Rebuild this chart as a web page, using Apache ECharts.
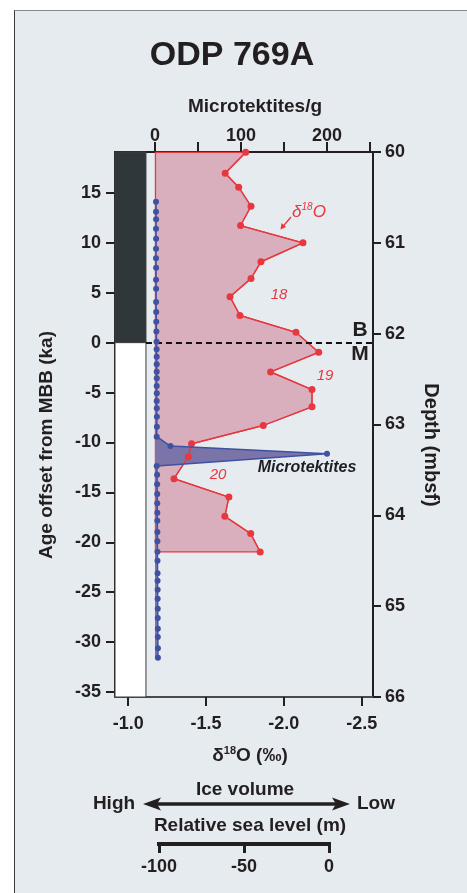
<!DOCTYPE html>
<html>
<head>
<meta charset="utf-8">
<script src="https://cdn.jsdelivr.net/npm/echarts@6/dist/echarts.min.js"></script>
<style>
html,body{margin:0;padding:0;background:#ffffff;}
#frame{position:absolute;left:14px;top:10px;width:470px;height:900px;background:#e6ebf0;border-left:1.5px solid #3a3a3a;border-top:1px solid #8a8a8a;}
#chart{position:absolute;left:0;top:0;width:467px;height:893px;}
</style>
</head>
<body>
<div id="frame"></div>
<div id="chart"></div>
<script>
// ---------------- DATA ----------------
// delta18O record (per mil) vs age offset from MBB (ka)
const redKa = [19.07, 16.97, 15.57, 13.67, 11.73, 10.0, 8.1, 6.43, 4.6, 2.73, 1.03, -0.97, -2.93, -4.7, -6.43, -8.3, -10.13, -11.43, -13.63, -15.47, -17.4, -19.13, -20.97];
const redD18O = [-1.755, -1.623, -1.710, -1.789, -1.722, -2.123, -1.853, -1.789, -1.654, -1.718, -2.078, -2.224, -1.915, -2.181, -2.181, -1.868, -1.407, -1.386, -1.294, -1.647, -1.621, -1.787, -1.848];
const redFillBase = -1.175; // delta18O value of the fill's left edge

// Microtektite abundance (microtektites/g) vs depth (mbsf)
const blueDepth = [60.547, 60.657, 60.741, 60.844, 60.954, 61.064, 61.170, 61.273, 61.406, 61.505, 61.651, 61.761, 61.868, 61.976,
  62.089, 62.172, 62.254, 62.337, 62.419, 62.491, 62.576, 62.657, 62.741, 62.822, 62.914, 63.024, 63.134,
  63.237, 63.322, 63.457,
  63.553, 63.658, 63.765, 63.868, 63.971, 64.059, 64.184, 64.286, 64.400, 64.500, 64.638, 64.720, 64.819, 64.918, 65.028, 65.131, 65.248, 65.340, 65.464, 65.568];
const blueCount = [1.2, 1.2, 1.3, 1.2, 1.3, 1.2, 1.2, 1.3, 1.2, 1.3, 1.3, 1.4, 1.5, 1.6,
  1.8, 1.9, 2.0, 2.0, 2.0, 2.1, 2.0, 2.1, 2.0, 2.1, 2.2, 2.2, 2.0,
  18, 200, 2.0,
  2.5, 2.5, 2.6, 2.6, 2.7, 2.7, 2.8, 2.8, 2.9, 2.9, 3.0, 3.0, 3.1, 3.1, 3.2, 3.2, 3.3, 3.3, 3.4, 3.4];

// Magnetic polarity (Brunhes normal above MBB, Matuyama reversed below)
const polarityTop = [19.1, 0];
const polarityBottom = [0, -35.5];
const polarityNormal = [true, false];

// Tick values
const d18OTicks = [-1.0, -1.5, -2.0, -2.5];
const mtTicks = [0, 50, 100, 150, 200, 250];
const mtLabels = [0, 100, 200];
const kaTicks = [-35, -30, -25, -20, -15, -10, -5, 0, 5, 10, 15];
const seaLevelTicks = [-100, -50, 0];

// ---------------- STYLE ----------------
const FONT = 'Liberation Sans, Arial, Helvetica, sans-serif';
const INK = '#231f20';
const RED = '#e8383f';
const PINK = '#d9aebd';
const BLUE = '#3f51a1';
const PURPLE = '#7b74a9';
const POL_X0 = -0.915, POL_X1 = -1.114; // polarity column edges on the d18O axis
const D_MIN = -2.573, D_MAX = -0.915;

const redPts = redD18O.map((v, i) => [v, redKa[i]]);
const bluePts = blueCount.map((v, i) => [v, blueDepth[i]]);
const polData = polarityTop.map((t, i) => [POL_X0, POL_X1, t, polarityBottom[i], polarityNormal[i] ? 1 : 0]);

function fillRender(points, base, fill, stroke) {
  return function (params, api) {
    if (params.dataIndex !== 0) return;
    const pts = points.map(p => api.coord(p));
    pts.unshift(api.coord([base, points[0][1]]));
    pts.push(api.coord([base, points[points.length - 1][1]]));
    return { type: 'polygon', shape: { points: pts }, style: { fill: fill, stroke: stroke || 'none', lineWidth: 1.3 } };
  };
}

const tickLabel = { color: INK, fontFamily: FONT, fontWeight: 'bold', fontSize: 18 };

const chart = echarts.init(document.getElementById('chart'));
const option = {
  backgroundColor: 'transparent',
  animation: false,
  grid: [
    { left: 115, top: 152, width: 258, height: 545, show: false },
    { left: 159, top: 843, width: 170, height: 1, show: false }
  ],
  xAxis: [
    { type: 'value', gridIndex: 0, position: 'bottom', inverse: true, min: D_MIN, max: D_MAX,
      axisLine: { show: true, onZero: false, lineStyle: { color: '#4a4a4a', width: 2 } },
      axisTick: { show: true, length: 9, customValues: d18OTicks, lineStyle: { color: INK, width: 2 } },
      axisLabel: Object.assign({ customValues: d18OTicks, margin: 18, formatter: v => v.toFixed(1) }, tickLabel),
      splitLine: { show: false } },
    { type: 'value', gridIndex: 0, position: 'top', min: -46.5, max: 253.5,
      axisLine: { show: true, onZero: false, lineStyle: { color: INK, width: 2 } },
      axisTick: { show: true, length: 10, customValues: mtTicks, lineStyle: { color: INK, width: 2 } },
      axisLabel: Object.assign({ customValues: mtLabels, margin: 7 }, tickLabel),
      splitLine: { show: false } },
    { type: 'value', gridIndex: 1, position: 'bottom', min: -100, max: 0, interval: 50,
      axisLine: { show: true, onZero: false, lineStyle: { color: INK, width: 4, cap: 'square' } },
      axisTick: { show: true, length: 9, lineStyle: { color: INK, width: 3 } },
      axisLabel: Object.assign({ margin: 14 }, tickLabel),
      splitLine: { show: false } }
  ],
  yAxis: [
    { type: 'value', gridIndex: 0, position: 'left', min: -35.5, max: 19.1,
      axisLine: { show: true, onZero: false, lineStyle: { color: INK, width: 2 } },
      axisTick: { show: true, length: 9, customValues: kaTicks, lineStyle: { color: INK, width: 2 } },
      axisLabel: Object.assign({ customValues: kaTicks, margin: 14 }, tickLabel),
      splitLine: { show: false } },
    { type: 'value', gridIndex: 0, position: 'right', min: 60, max: 66, interval: 1, inverse: true,
      axisLine: { show: true, onZero: false, lineStyle: { color: INK, width: 2 } },
      axisTick: { show: true, length: 8, lineStyle: { color: INK, width: 2 } },
      axisLabel: Object.assign({ margin: 12 }, tickLabel),
      splitLine: { show: false } },
    { type: 'value', gridIndex: 1, show: false, min: 0, max: 1 }
  ],
  series: [
    { type: 'custom', name: 'polarity', xAxisIndex: 0, yAxisIndex: 0, z: 1, data: polData,
      renderItem: function (params, api) {
        const p0 = api.coord([api.value(0), api.value(2)]);
        const p1 = api.coord([api.value(1), api.value(3)]);
        const normal = api.value(4) === 1;
        return { type: 'rect', shape: { x: p0[0], y: p0[1], width: p1[0] - p0[0], height: p1[1] - p0[1] },
          style: { fill: normal ? '#2f373a' : '#ffffff', stroke: '#3c3c3c', lineWidth: 1 } };
      } },
    { type: 'custom', name: 'd18O fill', xAxisIndex: 0, yAxisIndex: 0, z: 2, data: redPts,
      renderItem: fillRender(redPts, redFillBase, PINK, RED) },
    { type: 'custom', name: 'microtektite fill', xAxisIndex: 1, yAxisIndex: 1, z: 3, data: bluePts,
      renderItem: fillRender(bluePts, 0, PURPLE, null) },
    { type: 'line', name: 'd18O', xAxisIndex: 0, yAxisIndex: 0, z: 4, data: redPts,
      symbol: 'circle', symbolSize: 7, itemStyle: { color: RED }, lineStyle: { color: RED, width: 1.3 },
      markLine: { silent: true, symbol: 'none', label: { show: false },
        lineStyle: { color: '#111', width: 1.8, type: [6, 4] },
        data: [[{ coord: [POL_X1, 0] }, { coord: [D_MIN, 0] }]] } },
    { type: 'line', name: 'Microtektites', xAxisIndex: 1, yAxisIndex: 1, z: 5, data: bluePts,
      symbol: 'circle', symbolSize: 6, itemStyle: { color: BLUE }, lineStyle: { color: BLUE, width: 1.5 } }
  ],
  graphic: { elements: [
    { type: 'text', x: 232, y: 56, style: { text: 'ODP 769A', font: 'bold 34px ' + FONT, fill: INK, align: 'center', verticalAlign: 'middle' } },
    { type: 'text', x: 255, y: 107, style: { text: 'Microtektites/g', font: 'bold 19px ' + FONT, fill: INK, align: 'center', verticalAlign: 'middle' } },
    { type: 'text', x: 47, y: 445, rotation: Math.PI / 2, style: { text: 'Age offset from MBB (ka)', font: 'bold 19px ' + FONT, fill: INK, align: 'center', verticalAlign: 'middle' } },
    { type: 'text', x: 431, y: 445, rotation: -Math.PI / 2, style: { text: 'Depth (mbsf)', font: 'bold 20px ' + FONT, fill: INK, align: 'center', verticalAlign: 'middle' } },
    { type: 'text', x: 250, y: 756, style: { text: '{a|δ}{s|18}{a|O (‰)}', align: 'center', verticalAlign: 'middle',
      rich: { a: { font: 'bold 19px ' + FONT, fill: INK, lineHeight: 22 }, s: { font: 'bold 11px ' + FONT, fill: INK, lineHeight: 22, verticalAlign: 'top', padding: [0, 0, 8, 0] } } } },
    { type: 'text', x: 360, y: 330, style: { text: 'B', font: 'bold 21px ' + FONT, fill: INK, align: 'center', verticalAlign: 'middle' } },
    { type: 'text', x: 360, y: 354, style: { text: 'M', font: 'bold 21px ' + FONT, fill: INK, align: 'center', verticalAlign: 'middle' } },
    { type: 'text', x: 309, y: 212, style: { text: '{a|δ}{s|18}{a|O}', align: 'center', verticalAlign: 'middle',
      rich: { a: { font: 'italic 17px ' + FONT, fill: RED, lineHeight: 20 }, s: { font: 'italic 10px ' + FONT, fill: RED, lineHeight: 20, verticalAlign: 'top', padding: [0, 0, 8, 0] } } } },
    { type: 'polyline', shape: { points: [[291, 217], [282.5, 227]] }, style: { stroke: RED, lineWidth: 1.3 } },
    { type: 'polygon', shape: { points: [[280.5, 229.5], [281.5, 223], [286, 227]] }, style: { fill: RED } },
    { type: 'text', x: 279, y: 295, style: { text: '18', font: 'italic 15px ' + FONT, fill: RED, align: 'center', verticalAlign: 'middle' } },
    { type: 'text', x: 325, y: 376, style: { text: '19', font: 'italic 15px ' + FONT, fill: RED, align: 'center', verticalAlign: 'middle' } },
    { type: 'text', x: 218, y: 475, style: { text: '20', font: 'italic 15px ' + FONT, fill: RED, align: 'center', verticalAlign: 'middle' } },
    { type: 'text', x: 307, y: 468, style: { text: 'Microtektites', font: 'italic bold 16px ' + FONT, fill: '#1e1e28', align: 'center', verticalAlign: 'middle' } },
    { type: 'text', x: 245, y: 790, style: { text: 'Ice volume', font: 'bold 19px ' + FONT, fill: INK, align: 'center', verticalAlign: 'middle' } },
    { type: 'text', x: 114, y: 804, style: { text: 'High', font: 'bold 19px ' + FONT, fill: INK, align: 'center', verticalAlign: 'middle' } },
    { type: 'text', x: 376, y: 804, style: { text: 'Low', font: 'bold 19px ' + FONT, fill: INK, align: 'center', verticalAlign: 'middle' } },
    { type: 'polyline', shape: { points: [[155, 804], [338, 804]] }, style: { stroke: INK, lineWidth: 3.5 } },
    { type: 'polygon', shape: { points: [[143, 804], [161, 797.5], [157, 804], [161, 810.5]] }, style: { fill: INK } },
    { type: 'polygon', shape: { points: [[350, 804], [332, 797.5], [336, 804], [332, 810.5]] }, style: { fill: INK } },
    { type: 'text', x: 250, y: 826, style: { text: 'Relative sea level (m)', font: 'bold 19px ' + FONT, fill: INK, align: 'center', verticalAlign: 'middle' } }
  ] }
};
chart.setOption(option);
</script>
</body>
</html>
